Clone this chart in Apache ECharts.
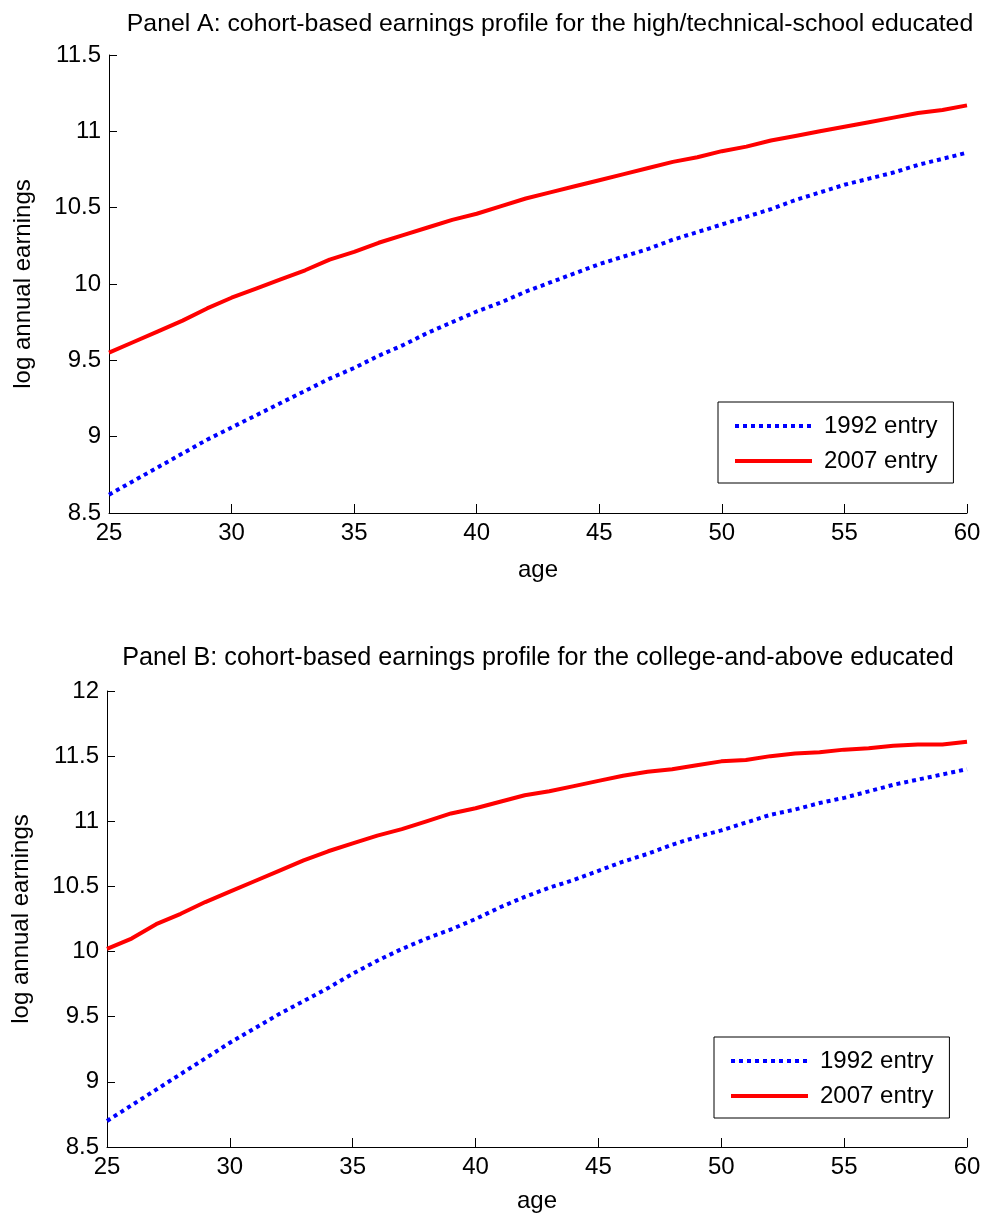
<!DOCTYPE html>
<html>
<head>
<meta charset="utf-8">
<script src="https://cdn.jsdelivr.net/npm/echarts@6/dist/echarts.min.js"></script>
<style>
html,body{margin:0;padding:0;background:#fff;}
#chart{width:986px;height:1217px;}
</style>
</head>
<body>
<div id="chart"></div>
<script>
// ---- data ----
var ages = [25,26,27,28,29,30,31,32,33,34,35,36,37,38,39,40,41,42,43,44,45,46,47,48,49,50,51,52,53,54,55,56,57,58,59,60];

var panelA_1992 = [8.62,8.71,8.80,8.89,8.98,9.06,9.14,9.22,9.30,9.38,9.45,9.53,9.60,9.68,9.75,9.82,9.88,9.95,10.01,10.07,10.13,10.18,10.23,10.29,10.34,10.39,10.44,10.49,10.55,10.60,10.65,10.69,10.73,10.78,10.82,10.86];
var panelA_2007 = [9.55,9.62,9.69,9.76,9.84,9.91,9.97,10.03,10.09,10.16,10.21,10.27,10.32,10.37,10.42,10.46,10.51,10.56,10.60,10.64,10.68,10.72,10.76,10.80,10.83,10.87,10.90,10.94,10.97,11.00,11.03,11.06,11.09,11.12,11.14,11.17];

var panelB_1992 = [8.70,8.82,8.94,9.06,9.18,9.30,9.41,9.52,9.62,9.72,9.83,9.93,10.02,10.10,10.17,10.25,10.34,10.42,10.49,10.55,10.62,10.69,10.75,10.82,10.88,10.93,10.99,11.05,11.09,11.14,11.18,11.23,11.28,11.32,11.36,11.40];
var panelB_2007 = [10.02,10.10,10.21,10.29,10.38,10.46,10.54,10.62,10.70,10.77,10.83,10.89,10.94,11.00,11.06,11.10,11.15,11.20,11.23,11.27,11.31,11.35,11.38,11.40,11.43,11.46,11.47,11.50,11.52,11.53,11.55,11.56,11.58,11.59,11.59,11.61];

var titleA = 'Panel A: cohort-based earnings profile for the high/technical-school educated';
var titleB = 'Panel B: cohort-based earnings profile for the college-and-above educated';
var seriesNames = ['1992 entry', '2007 entry'];
var xName = 'age';
var yName = 'log annual earnings';

// ---- helpers ----
var FONT = '"Liberation Sans", Arial, Helvetica, sans-serif';
function pairs(xs, ys){ return xs.map(function(x,i){ return [x, ys[i]]; }); }

function xAxisFor(gi, gap){
  return {
    type:'value', gridIndex:gi, min:25, max:60, interval:5,
    name:xName, nameLocation:'middle', nameGap:gap,
    nameTextStyle:{fontFamily:FONT, fontSize:24, color:'#000'},
    axisLine:{show:true, onZero:false, lineStyle:{color:'#000', width:1}},
    axisTick:{show:true, inside:true, length:9, lineStyle:{color:'#000'}},
    axisLabel:{fontFamily:FONT, fontSize:24, color:'#000', margin:8},
    splitLine:{show:false}
  };
}
function yAxisFor(gi, mn, mx){
  return {
    type:'value', gridIndex:gi, min:mn, max:mx, interval:0.5,
    name:yName, nameLocation:'middle', nameGap:74, nameRotate:90,
    nameTextStyle:{fontFamily:FONT, fontSize:24, color:'#000'},
    axisLine:{show:true, onZero:false, lineStyle:{color:'#000', width:1}},
    axisTick:{show:true, inside:true, length:8, lineStyle:{color:'#000'}},
    axisLabel:{fontFamily:FONT, fontSize:24, color:'#000', margin:8},
    splitLine:{show:false}
  };
}
function lineSeries(name, gi, data, dotted){
  return {
    name:name, type:'line', xAxisIndex:gi, yAxisIndex:gi,
    data:data, symbol:'none', showSymbol:false, silent:true, animation:false,
    lineStyle: dotted ? {color:'#0000ff', width:4, type:[4,4], cap:'butt'}
                      : {color:'#ff0000', width:4, type:'solid'},
    itemStyle:{color: dotted ? '#0000ff' : '#ff0000'}
  };
}
function legendAt(left, top){
  return {
    data:seriesNames, orient:'vertical', left:left, top:top,
    itemWidth:77, itemHeight:14, itemGap:11,
    padding:[12,16,10,15],
    borderColor:'#000', borderWidth:1, backgroundColor:'#fff',
    selectedMode:false,
    itemStyle:{color:'rgba(0,0,0,0)', borderWidth:0, opacity:0},
    lineStyle:{width:4},
    textStyle:{fontFamily:FONT, fontSize:24, color:'#000', padding:[0,0,0,7]}
  };
}

var chart = echarts.init(document.getElementById('chart'), null, {renderer:'canvas'});
chart.setOption({
  animation:false,
  backgroundColor:'#fff',
  title:[
    {text:titleA, left:550, top:12, textAlign:'center', padding:0,
     textStyle:{fontFamily:FONT, fontSize:24.8, fontWeight:'normal', color:'#000'}},
    {text:titleB, left:538, top:646, textAlign:'center', padding:0,
     textStyle:{fontFamily:FONT, fontSize:25.2, fontWeight:'normal', color:'#000'}}
  ],
  grid:[
    {left:109, right:19, top:55, height:458},
    {left:107, right:19, top:691, height:456}
  ],
  xAxis:[xAxisFor(0, 45), xAxisFor(1, 42)],
  yAxis:[yAxisFor(0, 8.5, 11.5), yAxisFor(1, 8.5, 12)],
  legend:[legendAt(718, 402), legendAt(714, 1037)],
  series:[
    lineSeries(seriesNames[0], 0, pairs(ages, panelA_1992), true),
    lineSeries(seriesNames[1], 0, pairs(ages, panelA_2007), false),
    lineSeries(seriesNames[0], 1, pairs(ages, panelB_1992), true),
    lineSeries(seriesNames[1], 1, pairs(ages, panelB_2007), false)
  ]
});
</script>
</body>
</html>
